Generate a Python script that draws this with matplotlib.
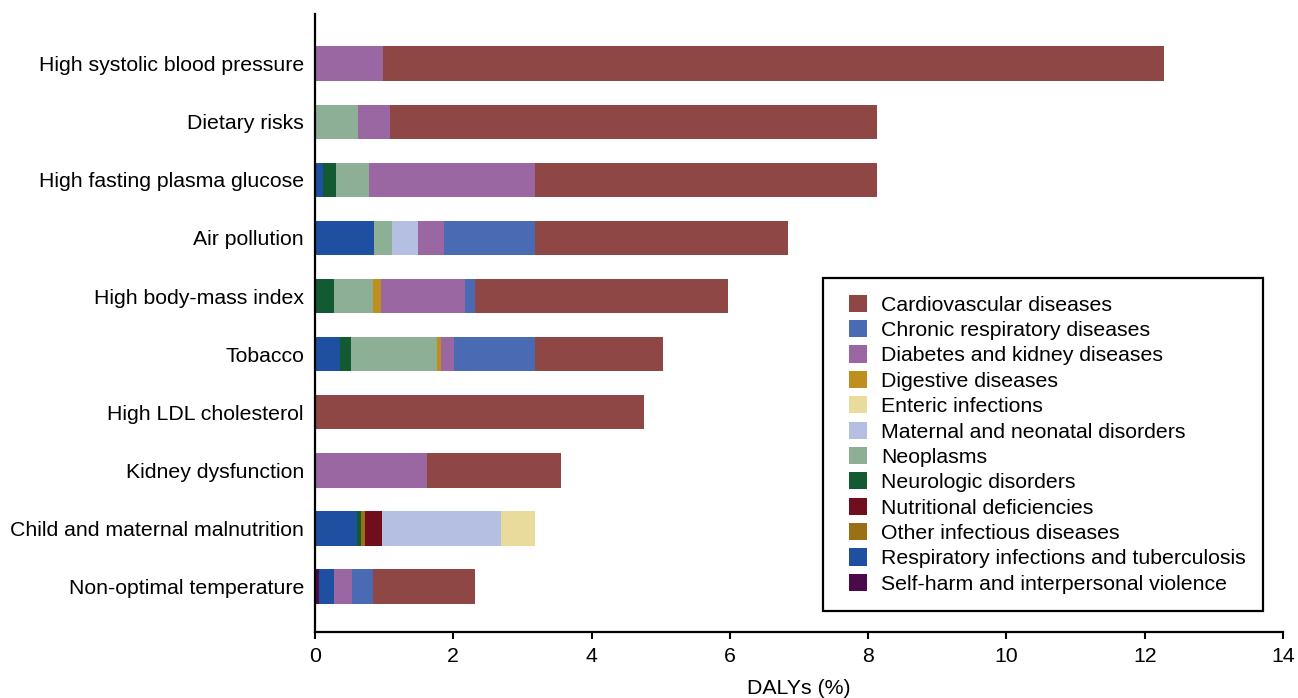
import matplotlib.pyplot as plt
from matplotlib.patches import Rectangle
from matplotlib.legend_handler import HandlerPatch
import numpy as np

plt.rcParams['font.family'] = ['Liberation Sans', 'DejaVu Sans']

risks = ['High systolic blood pressure', 'Dietary risks', 'High fasting plasma glucose',
         'Air pollution', 'High body-mass index', 'Tobacco', 'High LDL cholesterol',
         'Kidney dysfunction', 'Child and maternal malnutrition', 'Non-optimal temperature']

# DALYs (%) per cause, one value per risk factor (same order as risks)
self_harm   = [0, 0, 0, 0, 0, 0, 0, 0, 0, 0.055]
resp_inf    = [0, 0, 0.115, 0.85, 0, 0.36, 0, 0, 0.61, 0.215]
neurologic  = [0, 0, 0.185, 0, 0.27, 0.16, 0, 0, 0.06, 0]
other_inf   = [0, 0, 0, 0, 0, 0, 0, 0, 0.05, 0]
nutritional = [0, 0, 0, 0, 0, 0, 0, 0, 0.245, 0]
neoplasms   = [0, 0.62, 0.48, 0.26, 0.57, 1.24, 0, 0, 0, 0]
maternal    = [0, 0, 0, 0.38, 0, 0, 0, 0, 1.725, 0]
enteric     = [0, 0, 0, 0, 0, 0, 0, 0, 0.49, 0]
digestive   = [0, 0, 0, 0, 0.115, 0.06, 0, 0, 0, 0]
diabetes    = [0.98, 0.46, 2.40, 0.38, 1.215, 0.19, 0, 1.62, 0, 0.265]
chronic_resp = [0, 0, 0, 1.31, 0.14, 1.17, 0, 0, 0, 0.305]
cardio      = [11.30, 7.05, 4.95, 3.66, 3.66, 1.85, 4.76, 1.94, 0, 1.47]

# stacking order, left to right
stack = [
    ('Self-harm and interpersonal violence', self_harm, '#4b0b4b'),
    ('Respiratory infections and tuberculosis', resp_inf, '#1f4fa0'),
    ('Neurologic disorders', neurologic, '#135a33'),
    ('Other infectious diseases', other_inf, '#9a7016'),
    ('Nutritional deficiencies', nutritional, '#700e1e'),
    ('Neoplasms', neoplasms, '#8daf96'),
    ('Maternal and neonatal disorders', maternal, '#b5bfe2'),
    ('Enteric infections', enteric, '#e8db9c'),
    ('Digestive diseases', digestive, '#be8f1f'),
    ('Diabetes and kidney diseases', diabetes, '#9a67a2'),
    ('Chronic respiratory diseases', chronic_resp, '#4a6bb3'),
    ('Cardiovascular diseases', cardio, '#8e4745'),
]

fs = 15.3

fig = plt.figure(figsize=(12.98, 6.98), dpi=100)
ax = fig.add_axes([315 / 1298, 1 - 632 / 698, (1283 - 315) / 1298, (632 - 14) / 698])

y = np.arange(len(risks))
left = np.zeros(len(risks))
handles = {}
for name, vals, col in stack:
    vals = np.array(vals)
    b = ax.barh(y, vals, left=left, height=0.6, color=col, label=name)
    handles[name] = b.patches[0]
    left += vals

ax.set_yticks(y)
ax.set_yticklabels(risks, fontsize=fs)
ax.set_ylim(9.79, -0.86)
ax.set_xlim(0, 14)
ax.set_xticks(range(0, 15, 2))
ax.tick_params(axis='x', labelsize=fs, width=1.5, length=5, direction='out', pad=6)
ax.tick_params(axis='y', length=0, pad=8)
ax.set_xlabel('DALYs (%)', fontsize=fs, labelpad=9)
for s in ['top', 'right']:
    ax.spines[s].set_visible(False)
for s in ['left', 'bottom']:
    ax.spines[s].set_linewidth(1.6)


# square swatch shifted right inside the handle box
def swatch(legend, orig_handle, xdescent, ydescent, width, height, fontsize):
    side = 13.0  # points
    return Rectangle((-xdescent + width - side, -ydescent + (height - side * 0.95) / 2),
                     side, side * 0.95)


legend_order = ['Cardiovascular diseases', 'Chronic respiratory diseases',
                'Diabetes and kidney diseases', 'Digestive diseases', 'Enteric infections',
                'Maternal and neonatal disorders', 'Neoplasms', 'Neurologic disorders',
                'Nutritional deficiencies', 'Other infectious diseases',
                'Respiratory infections and tuberculosis', 'Self-harm and interpersonal violence']
leg = ax.legend([handles[n] for n in legend_order], legend_order,
                handler_map={Rectangle: HandlerPatch(patch_func=swatch)},
                loc='upper left', bbox_to_anchor=(823 / 1298, 1 - 278 / 698),
                bbox_transform=fig.transFigure, borderaxespad=0, fontsize=fs,
                frameon=True, fancybox=False, edgecolor='black', framealpha=1,
                handlelength=1.25, handleheight=0.82, labelspacing=0.27,
                borderpad=0.8, handletextpad=0.7)
leg.get_frame().set_linewidth(1.6)

fig.savefig('out.png', dpi=100)
